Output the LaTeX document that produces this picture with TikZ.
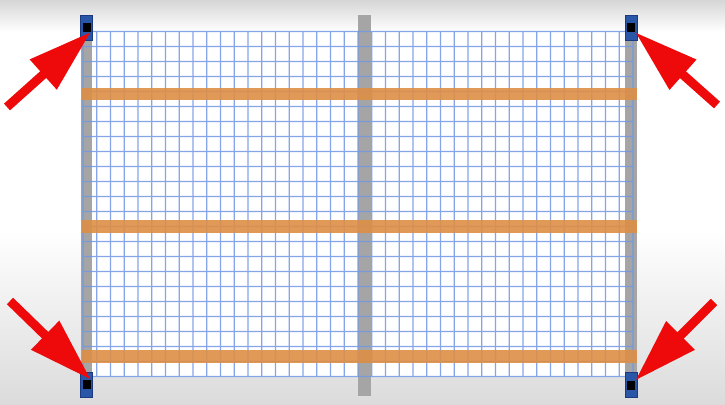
\documentclass[tikz,border=0pt]{standalone}
\usetikzlibrary{arrows.meta}

\definecolor{meshblue}{RGB}{112,150,228}
\definecolor{railorange}{RGB}{222,142,70}
\definecolor{postgray}{RGB}{165,165,165}
\definecolor{capblue}{RGB}{42,86,168}
\definecolor{capedge}{RGB}{28,58,128}
\definecolor{pointred}{RGB}{238,10,10}

\tikzset{
    meshline/.style={meshblue,line width=1.2pt},
    postbar/.style={fill=postgray},
    rail/.style={fill=railorange,opacity=0.9},
    capbox/.style={draw=capedge,fill=capblue,line width=0.8pt,minimum width=12pt,minimum height=25pt,inner sep=0pt},
    bolt/.style={fill=black,minimum width=8pt,minimum height=9pt,inner sep=0pt},
    pointer/.style={pointred,line width=9pt,-{Triangle[length=64pt,width=38pt]}}
}

\begin{document}
\begin{tikzpicture}[x=1pt,y=-1pt]
        \useasboundingbox (0,0) rectangle (725,404);
        \fill[white] (0,0) rectangle (725,404);
        \shade[top color=gray!32,bottom color=white] (0,0) rectangle (725,32);
        \shade[top color=white,bottom color=gray!28] (0,230) rectangle (725,404);
        \fill[white] (83,31.5) rectangle (633,376.5);

        % posts
        \fill[postbar] (81,30) rectangle (92,382);
        \fill[postbar] (625,30) rectangle (637,382);
        \fill[postbar] (358,15) rectangle (371,396);

        % mesh
        \begin{scope}[opacity=0.85,transparency group]
        \foreach \i in {0,...,40}
            \draw[meshline] ({83+13.75*\i},31.5) -- ({83+13.75*\i},376.5);
        \foreach \j in {0,...,23}
            \draw[meshline] (83,{31.5+15*\j}) -- (633,{31.5+15*\j});
        \end{scope}

        % rails
        \fill[rail] (82,88) rectangle (637,100);
        \fill[rail] (82,220) rectangle (637,232.5);
        \fill[rail] (82,350) rectangle (637,362.5);

        % corner caps
        \node[capbox] (capTL) at (86.5,27.5) {};
        \node[capbox] (capTR) at (631,27.5) {};
        \node[capbox] (capBL) at (86.5,384.5) {};
        \node[capbox] (capBR) at (631,384.5) {};
        \node[bolt] (boltTL) at (86.7,27.2) {};
        \node[bolt] (boltTR) at (631,27.5) {};
        \node[bolt] (boltBL) at (86.8,384.5) {};
        \node[bolt] (boltBR) at (631,385.3) {};

        % arrows
        \coordinate (tailTL) at (7,107);
        \coordinate (tailTR) at (717,105);
        \coordinate (tailBL) at (10,301);
        \coordinate (tailBR) at (714,302);
        \draw[pointer] (tailTL) -- (boltTL.south east);
        \draw[pointer] (tailTR) -- (boltTR.south east);
        \draw[pointer] (tailBL) -- (boltBL.north east);
        \draw[pointer] (tailBR) -- (boltBR.north east);
    \end{tikzpicture}
\end{document}
